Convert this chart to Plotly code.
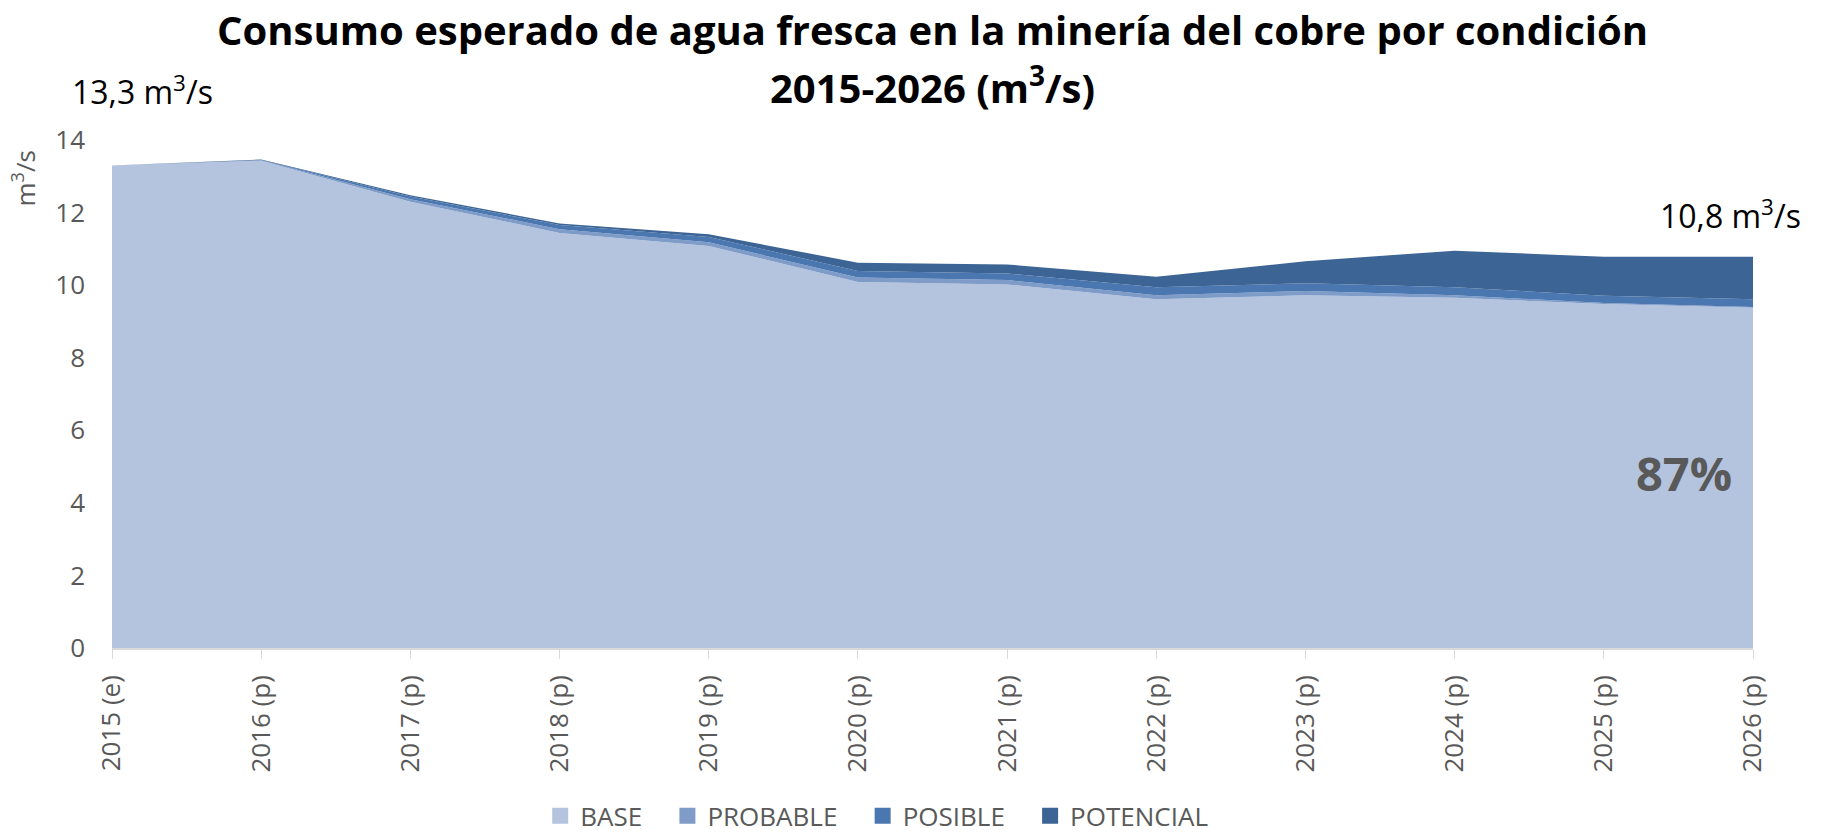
import plotly.graph_objects as go

years = ["2015 (e)", "2016 (p)", "2017 (p)", "2018 (p)", "2019 (p)", "2020 (p)",
         "2021 (p)", "2022 (p)", "2023 (p)", "2024 (p)", "2025 (p)", "2026 (p)"]
base = [13.30, 13.43, 12.30, 11.44, 11.08, 10.09, 10.02, 9.61, 9.72, 9.65, 9.48, 9.38]
probable = [0.00, 0.01, 0.07, 0.10, 0.10, 0.12, 0.12, 0.11, 0.12, 0.07, 0.03, 0.02]
posible = [0.00, 0.01, 0.07, 0.12, 0.15, 0.18, 0.18, 0.22, 0.21, 0.22, 0.20, 0.21]
potencial = [0.00, 0.01, 0.04, 0.04, 0.07, 0.23, 0.25, 0.29, 0.61, 1.01, 1.07, 1.17]

series = [
    ("BASE", base, "#B4C3DE"),
    ("PROBABLE", probable, "#7F9CC9"),
    ("POSIBLE", posible, "#4A77B0"),
    ("POTENCIAL", potencial, "#3C6494"),
]

FONT = "Open Sans"
GRAY = "#595959"
PAD = "\u00a0\u00a0\u00a0"

fig = go.Figure()
for name, vals, col in series:
    fig.add_trace(go.Scatter(
        x=years, y=vals, name=name, mode="lines", stackgroup="one",
        line=dict(width=0, color=col), fillcolor=col, showlegend=False,
    ))
for i, (name, vals, col) in enumerate(series):
    fig.add_trace(go.Scatter(
        x=[None], y=[None], name=name + (PAD if i < len(series) - 1 else ""),
        mode="markers", marker=dict(symbol="square", size=18, color=col),
        showlegend=True,
    ))

fig.update_layout(
    width=1835, height=836,
    margin=dict(l=112, r=82, t=140, b=188),
    paper_bgcolor="white", plot_bgcolor="white",
    font=dict(family=FONT, color=GRAY),
    showlegend=True,
    legend=dict(orientation="h", x=0.466, xanchor="center",
                yref="container", y=0.024, yanchor="middle",
                font=dict(size=26, color=GRAY), traceorder="normal",
                itemwidth=30, borderwidth=0),
    xaxis=dict(type="category", range=[0, 11], showgrid=False,
               showline=True, linecolor="#D9D9D9", linewidth=1.5,
               ticks="outside", ticklen=9, tickcolor="#D9D9D9",
               ticklabelstandoff=6,
               tickangle=-90, tickfont=dict(size=26, color=GRAY, family=FONT)),
    yaxis=dict(range=[0, 14], dtick=2, showgrid=False, showline=False,
               zeroline=False, ticks="", ticklabelstandoff=26,
               tickfont=dict(size=26, color=GRAY, family=FONT)),
)

fig.add_annotation(text="<b>Consumo esperado de agua fresca en la minería del cobre por condición</b>",
                   xref="paper", yref="paper", x=0.5, y=1.0, yshift=111, showarrow=False,
                   xanchor="center", yanchor="middle",
                   font=dict(size=40, color="black", family=FONT))
fig.add_annotation(text="<b>2015-2026 (m<sup>3</sup>/s)</b>",
                   xref="paper", yref="paper", x=0.5, y=1.0, yshift=55, showarrow=False,
                   xanchor="center", yanchor="middle",
                   font=dict(size=40, color="black", family=FONT))
fig.add_annotation(text="13,3 m<sup>3</sup>/s", xref="paper", yref="paper",
                   x=0, xshift=-42, y=1.0, yshift=50, showarrow=False,
                   xanchor="left", yanchor="middle",
                   font=dict(size=32, color="black", family=FONT))
fig.add_annotation(text="10,8 m<sup>3</sup>/s", xref="paper", yref="paper",
                   x=1.0, xshift=50, y=1.0, yshift=-74, showarrow=False,
                   xanchor="right", yanchor="middle",
                   font=dict(size=32, color="black", family=FONT))
fig.add_annotation(text="<b>87%</b>", xref="paper", yref="paper",
                   x=1.0, xshift=-19, y=0.345, showarrow=False,
                   xanchor="right", yanchor="middle",
                   font=dict(size=47, color=GRAY, family=FONT))
fig.add_annotation(text="m<sup>3</sup>/s", xref="paper", yref="paper",
                   x=0, xshift=-88, y=0.924, showarrow=False, textangle=-90,
                   xanchor="center", yanchor="middle",
                   font=dict(size=26, color=GRAY, family=FONT))

fig.write_html("out.html", config={"displayModeBar": False},
               post_script="document.body.style.margin='0';")
